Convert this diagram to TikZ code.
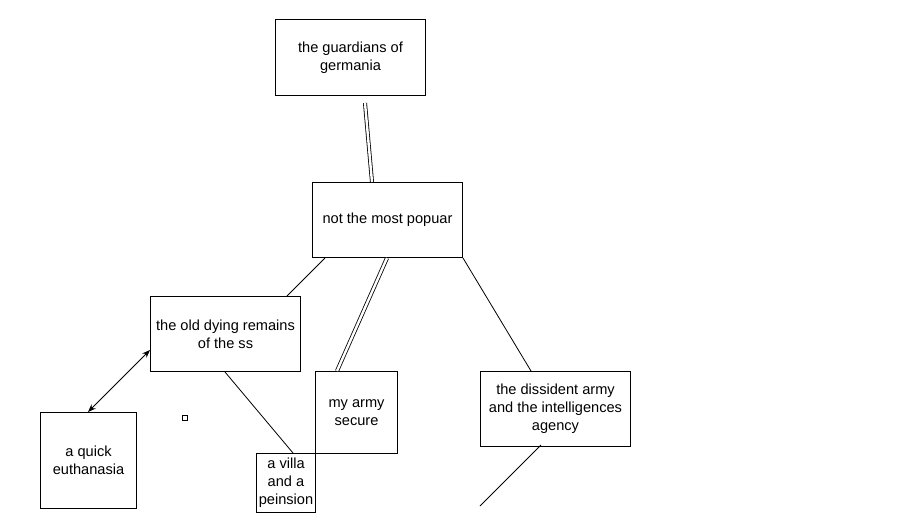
\documentclass[tikz,border=0pt]{standalone}
\usepackage{fontspec}
\setmainfont{Liberation Sans}
\usetikzlibrary{arrows.meta}
\begin{document}
\begin{tikzpicture}[x=1pt,y=-1pt,
  box/.style={draw, line width=1pt, inner sep=0pt, align=center, anchor=north west,
    font=\fontsize{14.6}{18}\selectfont},
  link/.style={line width=0.8pt},
  dlink/.style={line width=0.8pt, double, double distance=2.4pt},
]
\useasboundingbox[fill=white] (0,0) rectangle (914,531);
\node[box, minimum width=150pt, minimum height=76pt] (g) at (275,19) {the guardians of\\germania};
\node[box, minimum width=150pt, minimum height=75pt] (p) at (312,182) {not the most popuar};
\node[box, minimum width=150pt, minimum height=75pt] (o) at (150,296) {the old dying remains\\of the ss};
\node[box, minimum width=82pt, minimum height=82pt] (m) at (315,371) {my army\\secure};
\node[box, minimum width=59pt, minimum height=59pt] (v) at (256,453) {a villa\\and a\\peinsion};
\node[box, minimum width=150pt, minimum height=75pt] (d) at (480,371) {the dissident army\\and the intelligences\\agency};
\node[box, minimum width=96pt, minimum height=96pt] (q) at (40,412) {a quick\\euthanasia};
\node[draw, line width=0.8pt, minimum size=5pt, inner sep=0pt] (sq) at (184.5,418) {};
\coordinate (gb) at (365,103);
\coordinate (free) at (480,506);
\draw[dlink] (gb) -- (p.north -| 372,0);
\draw[dlink] (p.south -| 387,0) -- (m.north -| 337,0);
\draw[link] (p.south -| 325,0) -- (o.north -| 287,0);
\draw[link] (p.south east) -- (d.north -| 531,0);
\draw[link] (o.south -| 225,0) -- (v.north -| 293,0);
\draw[link, {Stealth[length=8pt,width=6pt]}-{Stealth[length=8pt,width=6pt]}] (o.west |- 0,350) -- (q.north -| 88,0);
\draw[link] (d.south -| 541,0) ++(0,-2) -- (free);
\end{tikzpicture}
\end{document}
